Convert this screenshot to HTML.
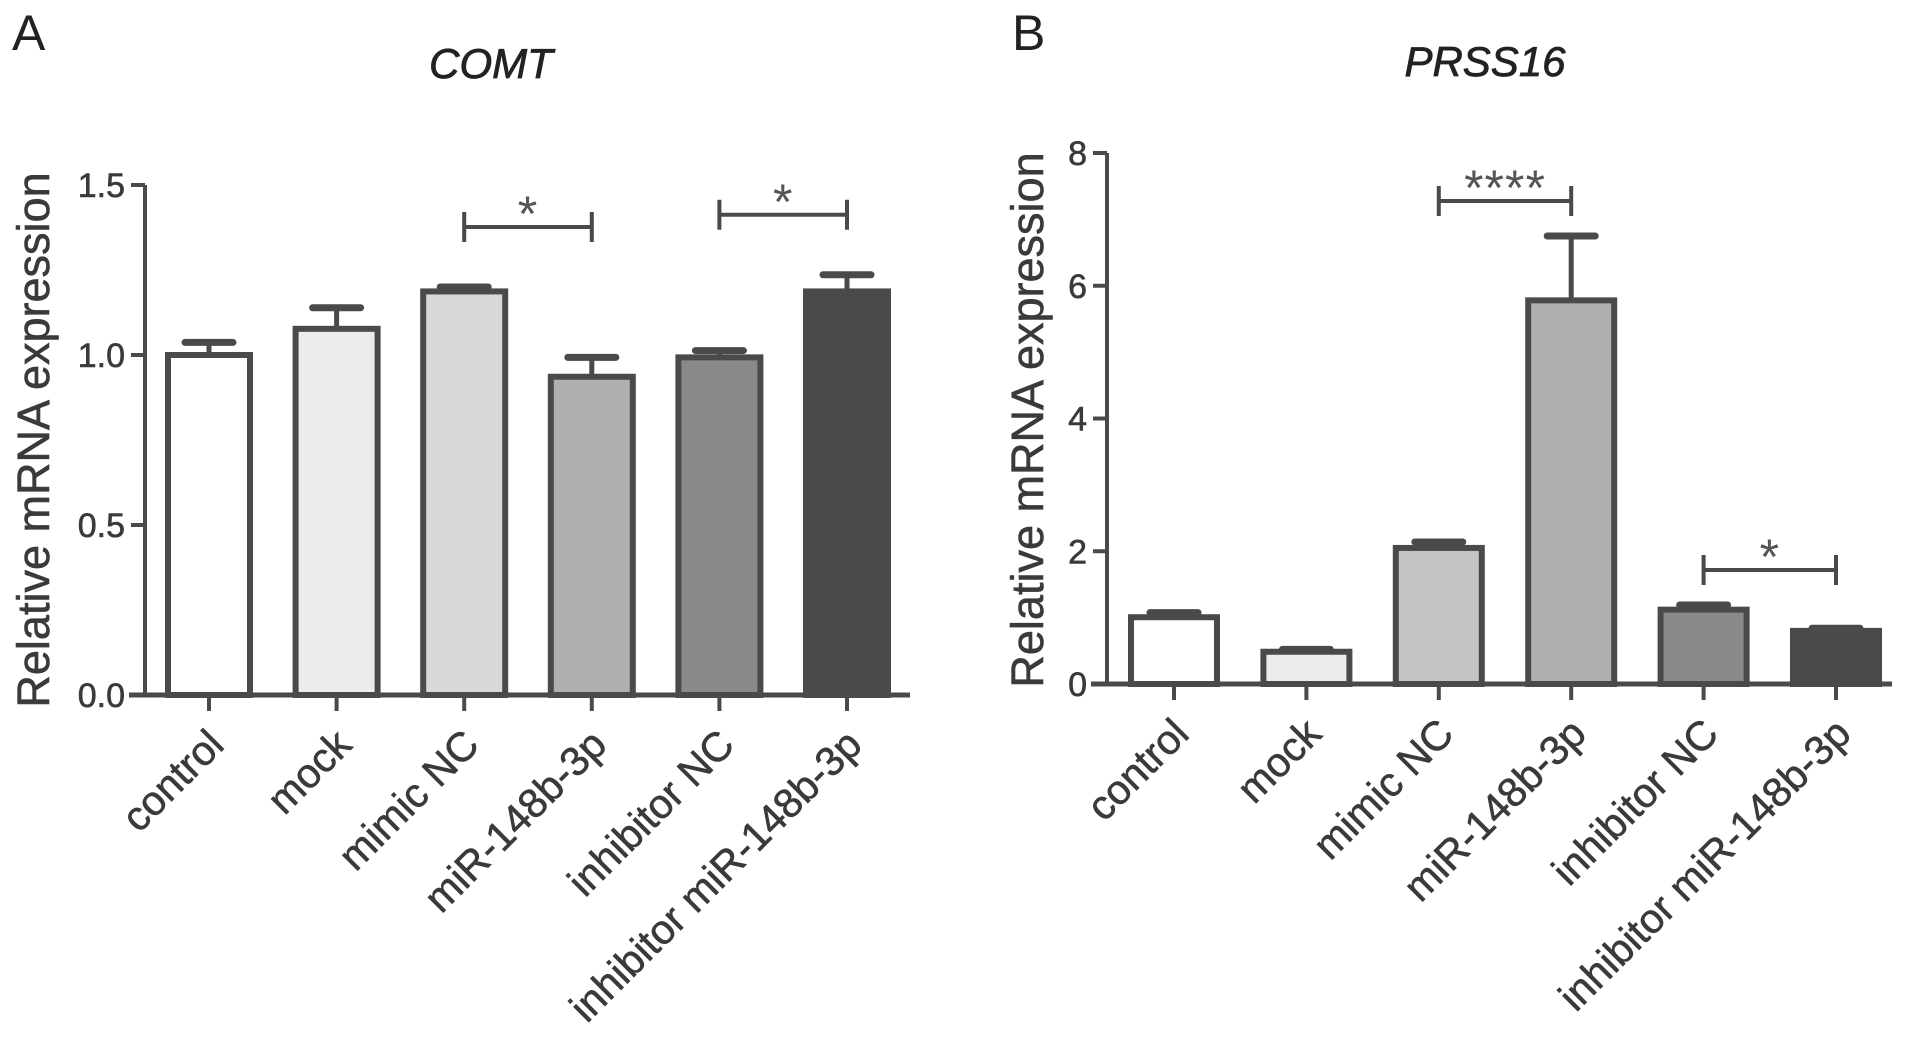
<!DOCTYPE html>
<html><head><meta charset="utf-8"><style>
html,body{margin:0;padding:0;background:#fff;}
svg{display:block;font-family:"Liberation Sans",Arial,sans-serif;}
</style></head><body>
<svg id="fig" width="1913" height="1042" viewBox="0 0 1913 1042">
<text x="12" y="50" font-size="50" fill="#222">A</text>
<text x="1012" y="50" font-size="50" fill="#222">B</text>
<text x="491" y="78" font-size="42" font-style="italic" fill="#222" stroke="#222" stroke-width="0.8" text-anchor="middle">COMT</text>
<text x="1485" y="76" font-size="42" font-style="italic" fill="#222" stroke="#222" stroke-width="0.8" text-anchor="middle">PRSS16</text>
<text transform="translate(49,440) rotate(-90)" font-size="45" fill="#3a3a3a" stroke="#3a3a3a" stroke-width="0.6" text-anchor="middle">Relative mRNA expression</text>
<text transform="translate(1043,420) rotate(-90)" font-size="45" fill="#3a3a3a" stroke="#3a3a3a" stroke-width="0.6" text-anchor="middle">Relative mRNA expression</text>
<g id="gA"></g>
<g id="gB"></g>
</svg>
<script>
const categories = ["control","mock","mimic NC","miR-148b-3p","inhibitor NC","inhibitor miR-148b-3p"];
const comtValues = [1.0, 1.077, 1.187, 0.936, 0.993, 1.187];
const comtErrors = [0.037, 0.062, 0.013, 0.057, 0.02, 0.049];
const comtTicks = ["0.0","0.5","1.0","1.5"];
const comtTickVals = [0, 0.5, 1.0, 1.5];
const prssValues = [1.006, 0.486, 2.05, 5.78, 1.12, 0.80];
const prssErrors = [0.07, 0.035, 0.09, 0.97, 0.07, 0.04];
const prssTicks = ["0","2","4","6","8"];
const prssTickVals = [0, 2, 4, 6, 8];
const comtSig = [[2,3,"*"],[4,5,"*"]];
const prssSig = [[2,3,"****"],[4,5,"*"]];
const comtFills = ["#ffffff","#ececec","#d8d8d8","#b0b0b0","#8a8a8a","#4a4a4a"];
const prssFills = ["#ffffff","#ececec","#c4c4c4","#b0b0b0","#8a8a8a","#4a4a4a"];

const NS="http://www.w3.org/2000/svg";
function mk(parent,tag,attrs){const e=document.createElementNS(NS,tag);for(const k in attrs)e.setAttribute(k,attrs[k]);parent.appendChild(e);return e;}
const C="#4a4a4a";

function draw(cfg){
  const g=document.getElementById(cfg.id);
  const y=v=>cfg.y0-(v-cfg.vmin)/(cfg.vmax-cfg.vmin)*(cfg.y0-cfg.y1);
  const x=i=>cfg.x0+i*cfg.step;
  let ax=mk(g,"line",{x1:cfg.axX,x2:cfg.axX,y1:y(cfg.vmax),y2:cfg.y0+2,stroke:C,"stroke-width":4});
  
  
  cfg.tickVals.forEach((v,i)=>{
    let t=mk(g,"line",{x1:cfg.axX-14,x2:cfg.axX,y1:y(v),y2:y(v),stroke:C,"stroke-width":4});
    
    
    let l=mk(g,"text",{x:cfg.axX-20,y:y(v)+12,"font-size":34,fill:"#3a3a3a",stroke:"#3a3a3a","stroke-width":0.6,"text-anchor":"end"});
    l.textContent=cfg.ticks[i];
    
    
  });
  cfg.values.forEach((v,i)=>{
    const cx=x(i), w=cfg.bw-6;
    const top=y(v+cfg.errors[i]);
    let eb=mk(g,"line",{x1:cx,x2:cx,y1:y(v),y2:top,stroke:C,"stroke-width":5});
    
    
    let cap=mk(g,"line",{x1:cx-24,x2:cx+24,y1:top,y2:top,stroke:C,"stroke-width":7,"stroke-linecap":"round"});
    
    
    let r=mk(g,"rect",{x:cx-w/2,y:y(v),width:w,height:cfg.y0-y(v),fill:cfg.fills[i],stroke:C,"stroke-width":6});
    
    
  });
  let xa=mk(g,"line",{x1:cfg.axX-16,x2:cfg.xEnd,y1:cfg.y0,y2:cfg.y0,stroke:C,"stroke-width":5});
  
  
  categories.forEach((c,i)=>{
    let t=mk(g,"line",{x1:x(i),x2:x(i),y1:cfg.y0,y2:cfg.y0+16,stroke:C,"stroke-width":4});
    
    
    const ax2=x(i)+17, ay=cfg.y0+52;
    let l=mk(g,"text",{x:0,y:0,"font-size":41,fill:"#3a3a3a",stroke:"#3a3a3a","stroke-width":0.6,"text-anchor":"end",transform:`translate(${ax2},${ay}) rotate(-45)`});
    l.textContent=c;
    
    
  });
  cfg.sig.forEach(s=>{
    const a=x(s[0]), b=x(s[1]);
    const hi=Math.max(cfg.values[s[0]]+cfg.errors[s[0]],cfg.values[s[1]]+cfg.errors[s[1]]);
    const by=y(hi)-cfg.sigGap;
    let p=mk(g,"path",{d:`M${a},${by-15}V${by+15}M${a},${by}H${b}M${b},${by-15}V${by+15}`,stroke:C,"stroke-width":4,fill:"none"});
    
    
    let t=mk(g,"text",{x:(a+b)/2,y:by+4,"font-size":50,fill:"#555","text-anchor":"middle","letter-spacing":"1"});
    t.textContent=s[2];
    
    
  });
}
draw({id:"gA",values:comtValues,errors:comtErrors,ticks:comtTicks,tickVals:comtTickVals,sig:comtSig,fills:comtFills,
  vmin:0,vmax:1.5,y0:695,y1:185,axX:145,x0:209,step:127.6,bw:88,xEnd:910,sigGap:60});
draw({id:"gB",values:prssValues,errors:prssErrors,ticks:prssTicks,tickVals:prssTickVals,sig:prssSig,fills:prssFills,
  vmin:0,vmax:8,y0:684,y1:153,axX:1107,x0:1174,step:132.4,bw:92,xEnd:1892,sigGap:35});
</script>
</body></html>
